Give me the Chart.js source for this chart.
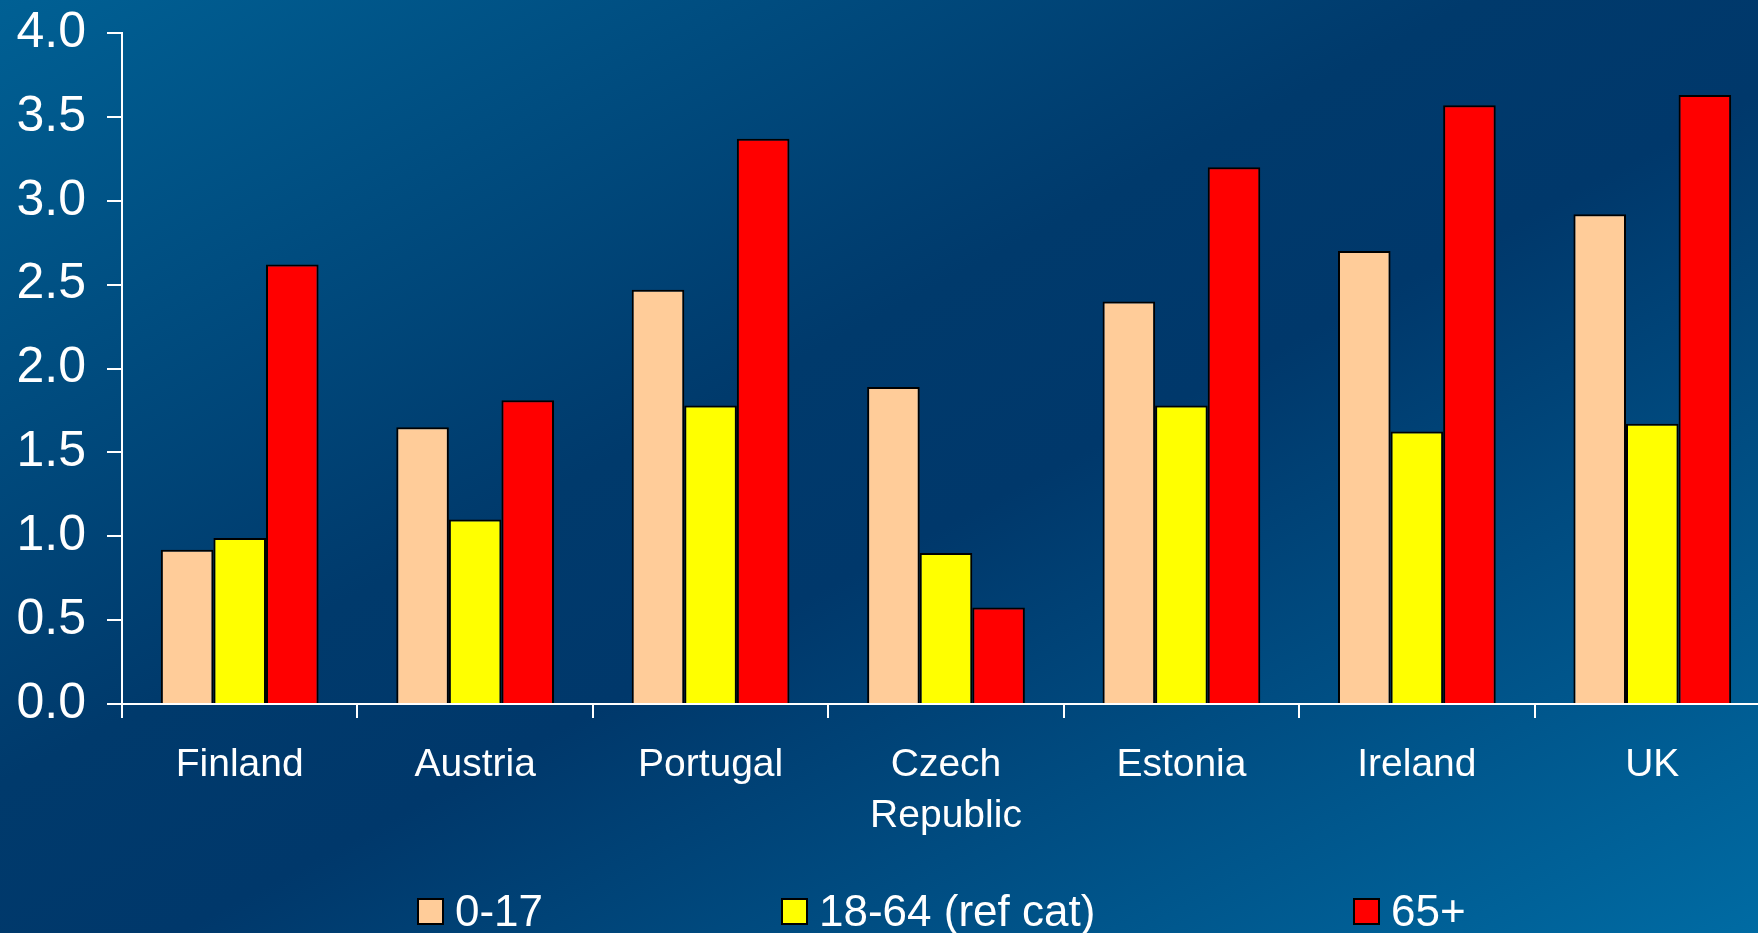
<!DOCTYPE html>
<html>
<head>
<meta charset="utf-8">
<script src="https://cdn.jsdelivr.net/npm/chart.js@4/dist/chart.umd.min.js"></script>
<style>
  html, body {
    margin: 0;
    padding: 0;
    width: 1758px;
    height: 933px;
    overflow: hidden;
    background: linear-gradient(to bottom right, #006094 0%, #003a6c 42%, #00386b 55%, #006ba3 100%);
    font-family: "Liberation Sans", Arial, sans-serif;
  }
  #wrap { position: absolute; left: 0; top: 0; width: 1780px; height: 933px; }
  #legend { position: absolute; left: 0; top: 0; width: 1758px; height: 933px; pointer-events: none; }
  .item { position: absolute; top: 889px; display: flex; align-items: center; color: #fff; font-size: 44px; line-height: 44px; }
  .box { width: 23px; height: 23px; border: 2px solid #000; margin-right: 11px; }
</style>
</head>
<body>
<div id="wrap"><canvas id="chart" width="1780" height="933"></canvas></div>
<div id="legend"></div>
<script>
const countries = ['Finland', 'Austria', 'Portugal', ['Czech', 'Republic'], 'Estonia', 'Ireland', 'UK'];
const seriesNames = ['0-17', '18-64 (ref cat)', '65+'];
const ages0to17 = [0.92, 1.65, 2.47, 1.89, 2.40, 2.70, 2.92];
const ages18to64 = [0.99, 1.10, 1.78, 0.90, 1.78, 1.625, 1.67];
const ages65plus = [2.62, 1.81, 3.37, 0.575, 3.20, 3.57, 3.63];
const colors = ['#ffcc99', '#ffff00', '#ff0000'];
const legendLeft = [417, 781, 1353];

const font = "'Liberation Sans', Arial, sans-serif";

const chart = new Chart(document.getElementById('chart'), {
  type: 'bar',
  data: {
    labels: countries,
    datasets: [ages0to17, ages18to64, ages65plus].map((d, i) => ({
      label: seriesNames[i],
      data: d,
      backgroundColor: colors[i],
      borderColor: '#000',
      borderWidth: 2,
      categoryPercentage: 0.67,
      barPercentage: 1.0
    }))
  },
  options: {
    responsive: false,
    animation: false,
    layout: { padding: { top: 33, right: 10, left: 0, bottom: 0 } },
    plugins: { legend: { display: false }, tooltip: { enabled: false } },
    scales: {
      x: {
        grid: { drawOnChartArea: false, color: '#fff', tickLength: 14, lineWidth: 2 },
        border: { color: '#fff', width: 2 },
        ticks: { color: '#fff', font: { family: font, size: 39, lineHeight: 1.3 }, padding: 22, maxRotation: 0, autoSkip: false },
        afterFit: s => { s.height = 229; }
      },
      y: {
        min: 0,
        max: 4,
        grid: { drawOnChartArea: false, color: '#fff', tickLength: 15, lineWidth: 2 },
        border: { color: '#fff', width: 2 },
        ticks: { stepSize: 0.5, color: '#fff', font: { family: font, size: 50, lineHeight: 0.6 }, padding: 21, callback: v => v.toFixed(1) },
        afterFit: s => { s.width = 122; s.paddingTop = 0; s.paddingBottom = 0; }
      }
    }
  }
});

// legend built from the chart datasets
const legend = document.getElementById('legend');
chart.data.datasets.forEach((ds, i) => {
  const item = document.createElement('div');
  item.className = 'item';
  item.style.left = legendLeft[i] + 'px';
  const box = document.createElement('div');
  box.className = 'box';
  box.style.background = ds.backgroundColor;
  const txt = document.createElement('span');
  txt.textContent = ds.label;
  item.appendChild(box);
  item.appendChild(txt);
  legend.appendChild(item);
});
</script>
</body>
</html>
